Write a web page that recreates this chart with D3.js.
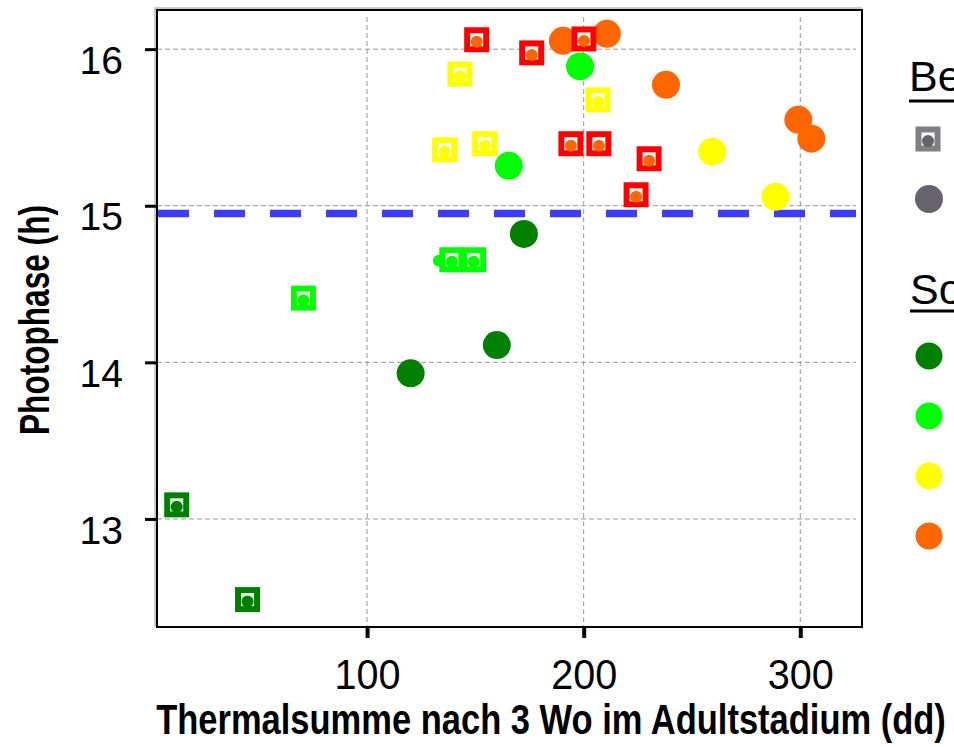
<!DOCTYPE html>
<html>
<head>
<meta charset="utf-8">
<script src="https://cdn.jsdelivr.net/npm/d3@7"></script>
<style>
body { margin: 0; background: #fff; }
text { font-family: "Liberation Sans", Arial, sans-serif; }
</style>
</head>
<body>
<svg id="chart" width="954" height="747"></svg>
<script>
// groups (colour classes) shared by both marker types
var groupFill  = ["#008000", "#00ff00", "#ffff00", "#ff6600"];
var groupFrame = ["#008000", "#00ff00", "#ffff00", "#ff0000"];

// square markers (first legend entry)
var sqX = [12.1, 44.8, 70.6, 139.1, 149.2, 135.8, 142.8, 154.3, 206.6, 150.6, 176.0, 200.1, 194.1, 207.0, 230.2, 224.2];
var sqY = [13.09, 12.485, 14.41, 14.655, 14.655, 15.357, 15.84, 15.396, 15.676, 16.06, 15.976, 16.065, 15.396, 15.396, 15.30, 15.07];
var sqG = [0, 0, 1, 1, 1, 2, 2, 2, 2, 3, 3, 3, 3, 3, 3, 3];

// lone small dot (no frame visible)
var dotX = [133.1], dotY = [14.655], dotG = [1];

// big circles (second legend entry)
var ciX = [120.1, 159.9, 172.4, 165.4, 198.3, 259.3, 288.5, 190.4, 210.7, 238.0, 299.1, 305.1];
var ciY = [13.93, 14.11, 14.82, 15.255, 15.89, 15.345, 15.057, 16.053, 16.098, 15.772, 15.549, 15.428];
var ciG = [0, 0, 0, 1, 1, 2, 2, 3, 3, 3, 3, 3];

var xTicks = [100, 200, 300];
var yTicks = [13, 14, 15, 16];
var threshold = 14.95;
var legendTitles = ["Behandlung", "Sorte"];

var svg = d3.select("#chart");

var x = d3.scaleLinear().domain([3, 328.5]).range([157, 862]);
var y = d3.scaleLinear().domain([12.31, 16.25]).range([627, 10]);

// gridlines
svg.append("g").selectAll("line").data(yTicks).enter().append("line")
    .attr("x1", x(3)).attr("x2", 856)
    .attr("y1", function(d) { return y(d) }).attr("y2", function(d) { return y(d) })
    .attr("stroke", "#999").attr("stroke-width", 1).attr("stroke-dasharray", "5,3");
svg.append("g").selectAll("line").data(xTicks).enter().append("line")
    .attr("x1", function(d) { return x(d) }).attr("x2", function(d) { return x(d) })
    .attr("y1", 17).attr("y2", y(12.31))
    .attr("stroke", "#999").attr("stroke-width", 1).attr("stroke-dasharray", "5,3");

// threshold line
svg.append("line")
    .attr("x1", x(3) + 1).attr("x2", 856)
    .attr("y1", y(threshold)).attr("y2", y(threshold))
    .attr("stroke", "#3c3cff").attr("stroke-width", 7.5).attr("stroke-dasharray", "31,25");

// frame (with a faint grey shadow top/left)
svg.append("path").attr("d", "M155,627V8H862").attr("fill", "none").attr("stroke", "#bbb").attr("stroke-width", 1.5);
svg.append("rect").attr("x", x(3)).attr("y", y(16.25))
    .attr("width", x(328.5) - x(3)).attr("height", y(12.31) - y(16.25))
    .attr("fill", "none").attr("stroke", "#000").attr("stroke-width", 2);

// axes
var gy = svg.append("g").attr("transform", "translate(" + x(3) + ",0)")
    .call(d3.axisLeft(y).tickValues(yTicks).tickSize(12).tickPadding(22).tickFormat(d3.format("d")));
gy.select(".domain").remove();
gy.selectAll(".tick line").attr("stroke", "#000").attr("stroke-width", 3);
gy.selectAll(".tick text").attr("font-size", 39).attr("fill", "#000").attr("dy", "0.62em")
    .style("font-family", "'Liberation Sans', Arial, sans-serif");

var gx = svg.append("g").attr("transform", "translate(0," + y(12.31) + ")")
    .call(d3.axisBottom(x).tickValues(xTicks).tickSize(11).tickPadding(20).tickFormat(d3.format("d")));
gx.select(".domain").remove();
gx.selectAll(".tick line").attr("stroke", "#000").attr("stroke-width", 4);
gx.selectAll(".tick text").attr("font-size", 43).attr("fill", "#000").attr("dy", "0.71em")
    .attr("textLength", 66).attr("lengthAdjust", "spacingAndGlyphs")
    .style("font-family", "'Liberation Sans', Arial, sans-serif");

// axis titles, squeezed to the condensed look of the original
var xt = svg.append("text").attr("text-anchor", "middle")
    .attr("font-size", 42).attr("font-weight", "bold")
    .text("Thermalsumme nach 3 Wo im Adultstadium (dd)");
var xs = 790 / xt.node().getComputedTextLength();
xt.attr("transform", "translate(551,734) scale(" + xs + ",1)");

var yt = svg.append("text").attr("text-anchor", "middle")
    .attr("font-size", 43).attr("font-weight", "bold")
    .text("Photophase (h)");
var ys = 230 / yt.node().getComputedTextLength();
yt.attr("transform", "translate(49,320) rotate(-90) scale(" + ys + ",1)");

// points
var circles = ciX.map(function(v, i) { return [v, ciY[i], ciG[i]] });
var squares = sqX.map(function(v, i) { return [v, sqY[i], sqG[i]] });
var dots = dotX.map(function(v, i) { return [v, dotY[i], dotG[i]] });

var pts = svg.append("g");
pts.selectAll(".big").data(circles).enter().append("circle").attr("class", "big")
    .attr("cx", function(d) { return x(d[0]) }).attr("cy", function(d) { return y(d[1]) })
    .attr("r", 14).attr("fill", function(d) { return groupFill[d[2]] });

pts.selectAll(".lone").data(dots).enter().append("circle").attr("class", "lone")
    .attr("cx", function(d) { return x(d[0]) }).attr("cy", function(d) { return y(d[1]) + 1 })
    .attr("r", 6).attr("fill", function(d) { return groupFill[d[2]] });

var sq = pts.selectAll(".sq").data(squares).enter().append("g").attr("class", "sq")
    .attr("transform", function(d) { return "translate(" + x(d[0]) + "," + y(d[1]) + ")" });
sq.append("rect").attr("x", -9.5).attr("y", -9.5).attr("width", 19).attr("height", 19)
    .attr("fill", "#fff").attr("stroke", function(d) { return groupFrame[d[2]] }).attr("stroke-width", 6);
sq.append("circle").attr("cx", 0).attr("cy", 2).attr("r", 6)
    .attr("fill", function(d) { return groupFill[d[2]] });

// legend (cut off by the right edge like the original)
var lg = svg.append("g");
lg.append("text").attr("x", 909).attr("y", 91).attr("font-size", 43).text(legendTitles[0]);
lg.append("line").attr("x1", 909).attr("x2", 960).attr("y1", 101).attr("y2", 101).attr("stroke", "#000").attr("stroke-width", 3);
var lsq = lg.append("g").attr("transform", "translate(928,139)");
lsq.append("rect").attr("x", -9.5).attr("y", -9.5).attr("width", 19).attr("height", 19)
    .attr("fill", "#fff").attr("stroke", "#808080").attr("stroke-width", 6);
lsq.append("circle").attr("cx", 0).attr("cy", 2).attr("r", 6).attr("fill", "#66626e");
lg.append("circle").attr("cx", 929).attr("cy", 199).attr("r", 14).attr("fill", "#66626e");

lg.append("text").attr("x", 910).attr("y", 304).attr("font-size", 43).text(legendTitles[1]);
lg.append("line").attr("x1", 910).attr("x2", 960).attr("y1", 311).attr("y2", 311).attr("stroke", "#000").attr("stroke-width", 3);
lg.selectAll(".lc").data(groupFill).enter().append("circle").attr("class", "lc")
    .attr("cx", 929).attr("cy", function(d, i) { return 356 + i * 60 })
    .attr("r", 13.5).attr("fill", function(d) { return d });
</script>
</body>
</html>
